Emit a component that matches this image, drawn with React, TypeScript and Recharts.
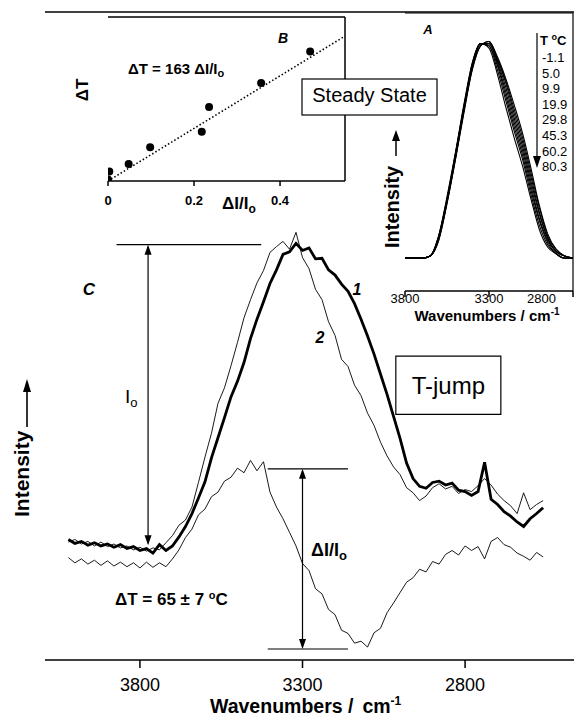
import { ComposedChart, Line, XAxis, YAxis, ReferenceLine, ReferenceArea, Scatter } from 'recharts'

const FONT = '"Liberation Sans", Arial, Helvetica, sans-serif'

// ---- panel C (T-jump spectra), wavenumbers in cm-1, intensity in arbitrary units
const WN = [
  4020, 4000, 3980, 3960, 3940, 3920, 3900, 3880, 3860, 3840, 3820, 3800, 3780, 3760, 3740, 3720,
  3700, 3680, 3660, 3640, 3620, 3600, 3580, 3560, 3540, 3520, 3500, 3480, 3460, 3440, 3420, 3400,
  3380, 3360, 3340, 3320, 3300, 3280, 3260, 3240, 3220, 3200, 3180, 3160, 3140, 3120, 3100, 3080,
  3060, 3040, 3020, 3000, 2980, 2960, 2940, 2920, 2900, 2880, 2860, 2840, 2820, 2800, 2780, 2760,
  2740, 2720, 2700, 2680, 2660, 2640, 2620, 2600, 2580, 2560,
]
// spectrum 1 (thick)
const CURVE_1 = [
  18.6, 18.0, 18.3, 17.7, 18.1, 17.6, 17.9, 17.4, 17.8, 17.2, 17.5, 16.9, 17.2, 16.5, 17.8, 16.9,
  17.6, 19.0, 20.6, 22.6, 25.0, 27.5, 31.2, 34.3, 37.4, 40.6, 43.0, 45.9, 49.6, 52.6, 55.3, 58.1,
  60.2, 62.6, 63.0, 64.3, 63.2, 63.6, 61.9, 62.0, 60.2, 59.4, 58.0, 56.9, 55.0, 52.6, 50.0, 47.2,
  44.1, 41.0, 37.6, 34.2, 30.4, 28.0, 26.8, 26.5, 27.4, 27.6, 27.0, 27.3, 26.2, 26.0, 25.4, 26.0,
  30.5, 24.8, 24.0, 22.9, 22.2, 21.3, 20.6, 21.8, 22.6, 23.5,
]
// spectrum 2 (thin)
const CURVE_2 = [
  18.2, 18.6, 17.9, 18.3, 17.6, 18.2, 17.5, 17.9, 17.3, 17.6, 17.0, 17.4, 16.8, 17.3, 17.0, 18.1,
  19.2, 20.8, 21.6, 23.6, 27.4, 31.3, 35.0, 39.6, 42.0, 45.4, 49.0, 52.8, 55.6, 58.2, 60.1, 62.9,
  63.8, 64.6, 63.4, 66.0, 62.1, 60.4, 57.2, 55.6, 52.2, 50.1, 46.4, 45.3, 42.4, 40.8, 38.1, 36.2,
  33.6, 31.5, 29.8, 28.6, 26.6, 25.8, 24.6, 25.3, 26.6, 27.2, 26.4, 26.8, 25.7, 26.3, 26.0, 26.9,
  28.0, 27.0, 25.6, 24.6, 23.8, 22.6, 25.8, 23.2, 24.0, 24.6,
]
// difference spectrum (offset)
const DIFF = [
  15.8, 15.0, 15.6, 14.8, 15.4, 14.6, 15.3, 14.5, 15.1, 14.4, 15.0, 14.2, 15.1, 14.3, 15.0, 14.4,
  15.6, 17.0, 18.9, 20.2, 22.4, 23.3, 25.2, 25.9, 27.6, 28.2, 29.6, 28.9, 30.8, 29.2, 30.6, 25.9,
  23.6, 21.8, 19.7, 17.6, 14.9, 13.8, 11.0, 10.2, 7.8, 7.0, 4.6, 4.1, 2.6, 2.9, 2.0, 4.2,
  4.9, 7.3, 8.8, 10.4, 12.0, 12.7, 14.0, 13.6, 15.2, 14.8, 16.3, 16.9, 16.2, 17.6, 16.9, 17.5,
  15.6, 18.3, 18.9, 17.8, 17.4, 16.5, 16.0, 15.4, 16.6, 15.9,
]
const MAIN_TICKS = [3800, 3300, 2800]

// ---- panel A (steady state spectra, normalised)
const INSET_WN = [
  3800, 3750, 3700, 3650, 3600, 3550, 3500, 3450, 3400, 3350, 3300,
  3250, 3200, 3150, 3100, 3050, 3000, 2950, 2900, 2850, 2800,
]
const TEMPS = ['-1.1', '5.0', '9.9', '19.9', '29.8', '45.3', '60.2', '80.3']
const SPEC_M1_1 = [0, 0, 0, 0.01, 0.08, 0.25, 0.45, 0.66, 0.86, 0.97, 0.99, 0.92, 0.82, 0.70, 0.57, 0.41, 0.24, 0.11, 0.04, 0.01, 0]
const SPEC_5_0 = [0, 0, 0, 0.01, 0.08, 0.25, 0.45, 0.67, 0.86, 0.97, 0.99, 0.91, 0.81, 0.68, 0.55, 0.39, 0.23, 0.10, 0.04, 0.01, 0]
const SPEC_9_9 = [0, 0, 0, 0.01, 0.09, 0.26, 0.46, 0.67, 0.87, 0.97, 0.99, 0.91, 0.80, 0.66, 0.53, 0.37, 0.21, 0.09, 0.03, 0.01, 0]
const SPEC_19_9 = [0, 0, 0, 0.01, 0.09, 0.26, 0.46, 0.68, 0.87, 0.98, 0.98, 0.90, 0.78, 0.64, 0.51, 0.35, 0.20, 0.09, 0.03, 0.01, 0]
const SPEC_29_8 = [0, 0, 0, 0.01, 0.09, 0.26, 0.47, 0.68, 0.88, 0.98, 0.98, 0.89, 0.76, 0.62, 0.49, 0.33, 0.18, 0.08, 0.03, 0.01, 0]
const SPEC_45_3 = [0, 0, 0, 0.01, 0.10, 0.27, 0.47, 0.69, 0.88, 0.98, 0.97, 0.88, 0.74, 0.60, 0.47, 0.31, 0.17, 0.07, 0.02, 0, 0]
const SPEC_60_2 = [0, 0, 0, 0.01, 0.10, 0.27, 0.48, 0.69, 0.89, 0.98, 0.97, 0.86, 0.72, 0.58, 0.45, 0.29, 0.15, 0.06, 0.02, 0, 0]
const SPEC_80_3 = [0, 0, 0, 0.01, 0.10, 0.28, 0.48, 0.70, 0.89, 0.98, 0.96, 0.84, 0.69, 0.55, 0.42, 0.27, 0.13, 0.05, 0.02, 0, 0]
const INSET_SPECTRA = [SPEC_M1_1, SPEC_5_0, SPEC_9_9, SPEC_19_9, SPEC_29_8, SPEC_45_3, SPEC_60_2, SPEC_80_3]
const INSET_TICKS = [3800, 3300, 2800]

// ---- panel B (calibration)
const B_DI = [0, 0.003, 0.048, 0.098, 0.218, 0.235, 0.356, 0.47]
const B_DT = [1, 5.9, 10.7, 21.2, 31, 46.4, 61.5, 81.4]
const FIT_DI = [0, 0.551]
const FIT_DT = [0, 91]
const B_XTICKS = [0, 0.2, 0.4]
const B_YTICKS = [0, 20, 40, 60, 80, 100]

const mainRows = WN.map((w, i) => ({ w, c1: CURVE_1[i], c2: CURVE_2[i], diff: DIFF[i] }))
const insetRows = INSET_WN.map((w, i) => {
  const row: Record<string, number> = { w }
  INSET_SPECTRA.forEach((s, k) => { row['t' + k] = s[i] })
  return row
})
const bRows = B_DI.map((x, i) => ({ x, y: B_DT[i] }))
const fitRows = FIT_DI.map((x, i) => ({ x, y: FIT_DT[i] }))

const axisStroke = { stroke: '#000', strokeWidth: 1.5 }

function DoubleArrow(props: any) {
  const { x1, y1, y2 } = props
  const top = Math.min(y1, y2)
  const bot = Math.max(y1, y2)
  return (
    <g>
      <line x1={x1} y1={top + 2} x2={x1} y2={bot - 2} stroke="#000" strokeWidth={1.2} />
      <polygon points={`${x1},${top} ${x1 - 3.5},${top + 10} ${x1 + 3.5},${top + 10}`} fill="#000" />
      <polygon points={`${x1},${bot} ${x1 - 3.5},${bot - 10} ${x1 + 3.5},${bot - 10}`} fill="#000" />
    </g>
  )
}

function InsetTick(props: any) {
  const { x, y, payload } = props
  const last = payload.value === 2800
  return (
    <text x={last ? x - 2 : x} y={y} dy="0.71em" textAnchor={last ? 'end' : 'middle'}
      fontSize={13} fontFamily={FONT} fill="#000">{payload.value}</text>
  )
}

function BDot(props: any) {
  return <circle cx={props.cx} cy={props.cy} r={4} fill="#000" />
}

export default function App() {
  return (
    <div style={{ position: 'absolute', left: 0, top: 0, width: 574, height: 719, background: '#fff', overflow: 'hidden', fontFamily: FONT }}>
      {/* panel C */}
      <div style={{ position: 'absolute', left: 0, top: 0 }}>
        <ComposedChart width={574} height={719} data={mainRows} margin={{ top: 12, right: 0, bottom: 0, left: 45 }}>
          <XAxis dataKey="w" type="number" domain={[2465, 4092]} reversed allowDataOverflow ticks={MAIN_TICKS}
            height={59} tickSize={8} tickMargin={10} axisLine={axisStroke} tickLine={axisStroke}
            tick={{ fontSize: 18, fill: '#000', fontFamily: FONT }} />
          <YAxis type="number" domain={[0, 100]} width={0} tick={false} tickLine={false} axisLine={axisStroke} />
          <ReferenceLine y={100} stroke="#000" strokeWidth={1.5} />
          <Line dataKey="diff" stroke="#000" strokeWidth={0.9} dot={false} isAnimationActive={false} />
          <Line dataKey="c2" stroke="#000" strokeWidth={0.9} dot={false} isAnimationActive={false} />
          <Line dataKey="c1" stroke="#000" strokeWidth={2.8} dot={false} isAnimationActive={false} />
          <ReferenceLine segment={[{ x: 3872, y: 64.1 }, { x: 3427, y: 64.1 }]} stroke="#000" strokeWidth={1.2} />
          <ReferenceLine segment={[{ x: 3775, y: 64.1 }, { x: 3775, y: 17.7 }]} shape={DoubleArrow} />
          <ReferenceLine segment={[{ x: 3407, y: 29.5 }, { x: 3160, y: 29.5 }]} stroke="#000" strokeWidth={1.2} />
          <ReferenceLine segment={[{ x: 3407, y: 1.7 }, { x: 3160, y: 1.7 }]} stroke="#000" strokeWidth={1.2} />
          <ReferenceLine segment={[{ x: 3300, y: 29.5 }, { x: 3300, y: 1.7 }]} shape={DoubleArrow} />
          <ReferenceArea x1={3013} x2={2690} y1={37.9} y2={46.9} fill="#fff" fillOpacity={1} stroke="#000" strokeWidth={1.2}
            label={{ value: 'T-jump', position: 'center', fontSize: 24, fill: '#000', fontFamily: FONT }} />
        </ComposedChart>
      </div>

      {/* panel B */}
      <div style={{ position: 'absolute', left: 55, top: 0 }}>
        <ComposedChart width={295} height={215} margin={{ top: 17, right: 5, bottom: 0, left: 53 }}>
          <XAxis dataKey="x" type="number" domain={[0, 0.551]} allowDataOverflow ticks={B_XTICKS} height={34}
            tickSize={5} tickMargin={10} axisLine={axisStroke} tickLine={axisStroke}
            tick={{ fontSize: 13, fontWeight: 'bold', fill: '#000', fontFamily: FONT }} />
          <YAxis dataKey="y" type="number" domain={[0, 103]} allowDataOverflow ticks={B_YTICKS} width={0}
            tickSize={4} tickMargin={2} axisLine={axisStroke} tickLine={axisStroke}
            tickFormatter={(v: number) => (v % 40 === 0 ? String(v) : '')}
            tick={{ fontSize: 13, fontWeight: 'bold', fill: '#000', fontFamily: FONT }} />
          <ReferenceLine y={103} stroke="#000" strokeWidth={1.5} />
          <ReferenceLine x={0.551} stroke="#000" strokeWidth={1.5} />
          <Line data={fitRows} dataKey="y" stroke="#000" strokeWidth={1.6} strokeDasharray="1.5 2.2" dot={false} isAnimationActive={false} />
          <Scatter data={bRows} dataKey="y" fill="#000" shape={BDot} isAnimationActive={false} />
        </ComposedChart>
      </div>

      {/* panel A */}
      <div style={{ position: 'absolute', left: 360, top: 0 }}>
        <ComposedChart width={214} height={340} data={insetRows} margin={{ top: 13, right: 1, bottom: 0, left: 45 }}>
          <XAxis dataKey="w" type="number" domain={[2800, 3800]} reversed allowDataOverflow ticks={INSET_TICKS} height={49}
            tickSize={6} tickMargin={-3} axisLine={axisStroke} tickLine={axisStroke} tick={InsetTick} />
          <YAxis type="number" domain={[-0.15, 1.12]} width={0} tick={false} tickLine={false} axisLine={axisStroke} />
          <ReferenceLine x={2800} stroke="#000" strokeWidth={1.2} />
          <ReferenceLine y={1.12} stroke="#000" strokeWidth={1.2} />
          {TEMPS.map((t, k) => (
            <Line key={t} name={t} type="monotone" dataKey={'t' + k} stroke="#000" strokeWidth={1.1} dot={false} isAnimationActive={false} />
          ))}
        </ComposedChart>
      </div>

      {/* annotations */}
      <svg width={574} height={719} style={{ position: 'absolute', left: 0, top: 0, pointerEvents: 'none' }} fontFamily={FONT}>
        {/* main panel labels */}
        <text x={89} y={295} textAnchor="middle" fontSize={17} fontWeight="bold" fontStyle="italic">C</text>
        <text x={357} y={295} textAnchor="middle" fontSize={16} fontWeight="bold" fontStyle="italic">1</text>
        <text x={320} y={343} textAnchor="middle" fontSize={16} fontWeight="bold" fontStyle="italic">2</text>
        <text x={125} y={403} fontSize={19}>I<tspan fontSize={13} dy={4}>o</tspan></text>
        <text x={311} y={556} fontSize={18} fontWeight="bold">ΔI/I<tspan fontSize={13} dy={4}>o</tspan></text>
        <text x={115} y={605} fontSize={17} fontWeight="bold">ΔT = 65 ± 7 <tspan fontSize={11} dy={-6}>o</tspan><tspan dy={6}>C</tspan></text>
        <text x={210} y={713} fontSize={19.5} fontWeight="bold">Wavenumbers /<tspan dx={9}>cm</tspan><tspan fontSize={12} dy={-8}>-1</tspan></text>
        <text transform="translate(29,517) rotate(-90)" fontSize={21} fontWeight="bold">Intensity</text>
        <line x1={27} y1={427} x2={27} y2={388} stroke="#000" strokeWidth={1.6} />
        <polygon points="27,379 23,392 31,392" fill="#000" />

        {/* panel B labels */}
        <text x={128} y={74} fontSize={15} fontWeight="bold">ΔT = 163 ΔI/I<tspan fontSize={11} dy={3}>o</tspan></text>
        <text x={283} y={43} textAnchor="middle" fontSize={14} fontWeight="bold" fontStyle="italic">B</text>
        <text transform="translate(88,90) rotate(-90)" textAnchor="middle" fontSize={17} fontWeight="bold">ΔT</text>
        <text x={222} y={209} fontSize={17} fontWeight="bold">ΔI/I<tspan fontSize={12} dy={4}>o</tspan></text>

        {/* panel A labels */}
        <text x={428} y={34} textAnchor="middle" fontSize={13} fontWeight="bold" fontStyle="italic">A</text>
        <text x={540} y={45} fontSize={13} fontWeight="bold">T <tspan fontSize={9} dy={-5}>o</tspan><tspan dy={5}>C</tspan></text>
        {TEMPS.map((t, i) => (
          <text key={t} x={542} y={62 + i * 15.6} fontSize={13}>{t}</text>
        ))}
        <line x1={537} y1={33} x2={537} y2={158} stroke="#000" strokeWidth={1.2} />
        <polygon points="533,156 541,156 537,168" fill="#000" />
        <text x={487} y={321} textAnchor="middle" fontSize={15} fontWeight="bold">Wavenumbers / cm<tspan fontSize={10} dy={-6}>-1</tspan></text>
        <text transform="translate(399,248) rotate(-90)" fontSize={20} fontWeight="bold">Intensity</text>
        <line x1={396} y1={156} x2={396} y2={138} stroke="#000" strokeWidth={1.5} />
        <polygon points="396,130 392,141 400,141" fill="#000" />

        {/* steady state box */}
        <rect x={302} y={79} width={135} height={36} fill="#fff" stroke="#000" strokeWidth={1.2} />
        <text x={369.5} y={102} textAnchor="middle" fontSize={20}>Steady State</text>
      </svg>
    </div>
  )
}
